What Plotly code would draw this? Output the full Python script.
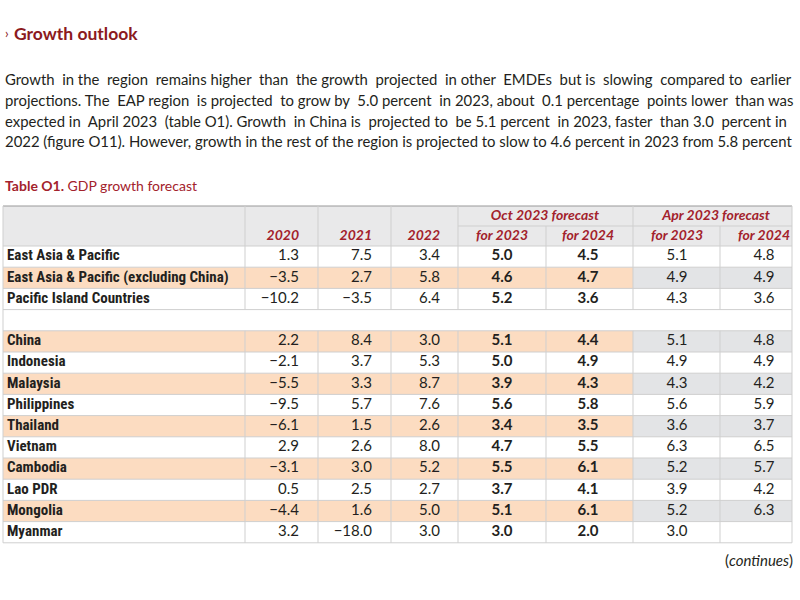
import plotly.graph_objects as go

# ---------------- data ----------------
row_labels = ["East Asia & Pacific", "East Asia & Pacific (excluding China)", "Pacific Island Countries", "",
              "China", "Indonesia", "Malaysia", "Philippines", "Thailand", "Vietnam", "Cambodia",
              "Lao PDR", "Mongolia", "Myanmar"]
y2020 = [1.3, -3.5, -10.2, None, 2.2, -2.1, -5.5, -9.5, -6.1, 2.9, -3.1, 0.5, -4.4, 3.2]
y2021 = [7.5, 2.7, -3.5, None, 8.4, 3.7, 3.3, 5.7, 1.5, 2.6, 3.0, 2.5, 1.6, -18.0]
y2022 = [3.4, 5.8, 6.4, None, 3.0, 5.3, 8.7, 7.6, 2.6, 8.0, 5.2, 2.7, 5.0, 3.0]
oct_2023 = [5.0, 4.6, 5.2, None, 5.1, 5.0, 3.9, 5.6, 3.4, 4.7, 5.5, 3.7, 5.1, 3.0]
oct_2024 = [4.5, 4.7, 3.6, None, 4.4, 4.9, 4.3, 5.8, 3.5, 5.5, 6.1, 4.1, 6.1, 2.0]
apr_2023 = [5.1, 4.9, 4.3, None, 5.1, 4.9, 4.3, 5.6, 3.6, 6.3, 5.2, 3.9, 5.2, 3.0]
apr_2024 = [4.8, 4.9, 3.6, None, 4.8, 4.9, 4.2, 5.9, 3.7, 6.5, 5.7, 4.2, 6.3, None]
shaded_rows = [1, 4, 6, 8, 10, 12]
year_headers = ["2020", "2021", "2022"]
group_headers = ["Oct 2023 forecast", "Apr 2023 forecast"]
sub_headers = ["for 2023", "for 2024", "for 2023", "for 2024"]

title_text = "Growth outlook"
paragraph_lines = [
    "Growth in the region remains higher than the growth projected in other EMDEs but is slowing compared to earlier",
    "projections. The EAP region is projected to grow by 5.0 percent in 2023, about 0.1 percentage points lower than was",
    "expected in April 2023 (table O1). Growth in China is projected to be 5.1 percent in 2023, faster than 3.0 percent in",
    "2022 (figure O11). However, growth in the rest of the region is projected to slow to 4.6 percent in 2023 from 5.8 percent",
]
caption_bold = "Table O1."
caption_rest = "GDP growth forecast"
footer = "(<i>continues</i>)"

# ---------------- styling / geometry ----------------
W, H = 800, 600
NARROW = "Liberation Sans Narrow, Roboto Condensed, Roboto, sans-serif"
BODY = "Lato, Roboto, sans-serif"
TXT = "#231f20"
RED = "#8b1a20"
HRED = "#a3222c"
PEACH = "#fcdcc1"
GREY = "#e3e4e6"
HEAD_BG = "#e9e9ea"
GRID = "#cfcfcf"

col_edges = [3, 245, 318, 391, 458, 546, 633, 720, 792]
right_anchor = [299, 372, 440]
center_anchor = [502, 588, 677, 764]
group_anchor = [545, 716]
head_top, head_mid, head_bot = 206, 226, 246
row_h = 21.2
n_rows = len(row_labels)
row_top = [head_bot + i * row_h for i in range(n_rows)]
row_mid = [t + row_h / 2 for t in row_top]
table_bot = head_bot + n_rows * row_h
# extra no-break spaces per paragraph line to emulate justified text
justify_extra = [12, 8, 8, 0]


def fmt(v):
    if v is None:
        return ""
    return f"{v:.1f}".replace("-", "\u2212")


def justify(line, extra):
    words = line.split(" ")
    gaps = len(words) - 1
    out = words[0]
    prev = 0
    for i in range(gaps):
        target = round(extra * (i + 1) / gaps)
        n = target - prev
        prev = target
        out += " " + "\u00a0" * n + words[i + 1]
    return out


fig = go.Figure()
shapes = []

shapes.append(dict(type="rect", xref="x", yref="y", x0=col_edges[0], x1=col_edges[-1], y0=head_top, y1=head_bot,
                   fillcolor=HEAD_BG, line=dict(width=0), layer="below"))
for r in shaded_rows:
    shapes.append(dict(type="rect", xref="x", yref="y", x0=col_edges[0], x1=col_edges[6], y0=row_top[r],
                       y1=row_top[r] + row_h, fillcolor=PEACH, line=dict(width=0), layer="below"))
    shapes.append(dict(type="rect", xref="x", yref="y", x0=col_edges[6], x1=col_edges[-1], y0=row_top[r],
                       y1=row_top[r] + row_h, fillcolor=GREY, line=dict(width=0), layer="below"))
for i in range(n_rows + 1):
    y = head_bot + i * row_h
    shapes.append(dict(type="line", xref="x", yref="y", x0=col_edges[0], x1=col_edges[-1], y0=y, y1=y,
                       line=dict(color=GRID, width=1)))
shapes.append(dict(type="line", xref="x", yref="y", x0=col_edges[0], x1=col_edges[-1], y0=head_top, y1=head_top,
                   line=dict(color="#9a9a9a", width=1.2)))
shapes.append(dict(type="line", xref="x", yref="y", x0=col_edges[4], x1=col_edges[-1], y0=head_mid, y1=head_mid,
                   line=dict(color=GRID, width=1)))
empty_rows = [i for i, l in enumerate(row_labels) if l == ""]
for j, x in enumerate(col_edges):
    if j in (0, len(col_edges) - 1):
        shapes.append(dict(type="line", xref="x", yref="y", x0=x, x1=x, y0=head_top, y1=table_bot,
                           line=dict(color=GRID, width=1)))
        continue
    y_start = head_mid if j in (5, 7) else head_top
    segs = []
    cur = y_start
    for e in empty_rows:
        segs.append((cur, row_top[e]))
        cur = row_top[e] + row_h
    segs.append((cur, table_bot))
    for a, b in segs:
        shapes.append(dict(type="line", xref="x", yref="y", x0=x, x1=x, y0=a, y1=b,
                           line=dict(color=GRID, width=1)))


def text_trace(xs, ys, texts, pos, family=BODY, bold=False, italic=False, color=TXT, size=15):
    fig.add_trace(go.Scatter(
        x=xs, y=ys, text=texts, mode="text", textposition=pos, hoverinfo="skip",
        textfont=dict(family=family, size=size, color=color, weight="bold" if bold else "normal",
                      style="italic" if italic else "normal"),
        cliponaxis=False))


text_trace([col_edges[0] + 4] * n_rows, row_mid, row_labels, "middle right", family=NARROW, bold=True, size=15)
for j, vals in enumerate([y2020, y2021, y2022]):
    xr = right_anchor[j]
    text_trace([xr] * n_rows, row_mid, [fmt(v) for v in vals], "middle left")
    text_trace([xr], [head_mid + 10], [year_headers[j]], "middle left", bold=True, italic=True, color=HRED,
               size=14)
for k, vals in enumerate([oct_2023, oct_2024, apr_2023, apr_2024]):
    xc = center_anchor[k]
    text_trace([xc] * n_rows, row_mid, [fmt(v) for v in vals], "middle center", bold=(k < 2))
    text_trace([xc], [head_mid + 10], [sub_headers[k]], "middle center", bold=True, italic=True, color=HRED,
               size=14)
for g in range(2):
    text_trace([group_anchor[g]], [head_top + 10], [group_headers[g]], "middle center", bold=True, italic=True,
               color=HRED, size=14)

annotations = []
annotations.append(dict(x=3, y=33, xref="x", yref="y", xanchor="left", yanchor="middle", showarrow=False,
                        text="\u203a", font=dict(family=BODY, size=13, color=RED)))
annotations.append(dict(x=12, y=33, xref="x", yref="y", xanchor="left", yanchor="middle", showarrow=False,
                        text=f"<b>{title_text}</b>", font=dict(family=BODY, size=17.5, color=RED)))
for i, line in enumerate(paragraph_lines):
    annotations.append(dict(x=3, y=79 + i * 20.8, xref="x", yref="y", xanchor="left", yanchor="middle",
                            showarrow=False, text=justify(line, justify_extra[i]),
                            font=dict(family=BODY, size=14.9, color=TXT)))
annotations.append(dict(x=3, y=185, xref="x", yref="y", xanchor="left", yanchor="middle", showarrow=False,
                        text=f"<b>{caption_bold}</b> {caption_rest}", font=dict(family=BODY, size=14, color=HRED)))
annotations.append(dict(x=795, y=560, xref="x", yref="y", xanchor="right", yanchor="middle", showarrow=False,
                        text=footer, font=dict(family=BODY, size=15, color=TXT)))

fig.update_layout(
    width=W, height=H, margin=dict(l=0, r=0, t=0, b=0),
    paper_bgcolor="white", plot_bgcolor="white", showlegend=False,
    xaxis=dict(range=[0, W], visible=False, fixedrange=True),
    yaxis=dict(range=[H, 0], visible=False, fixedrange=True),
    shapes=shapes, annotations=annotations,
)
fig.write_html("out.html", config={"displayModeBar": False},
               post_script="document.body.style.margin='0';")
